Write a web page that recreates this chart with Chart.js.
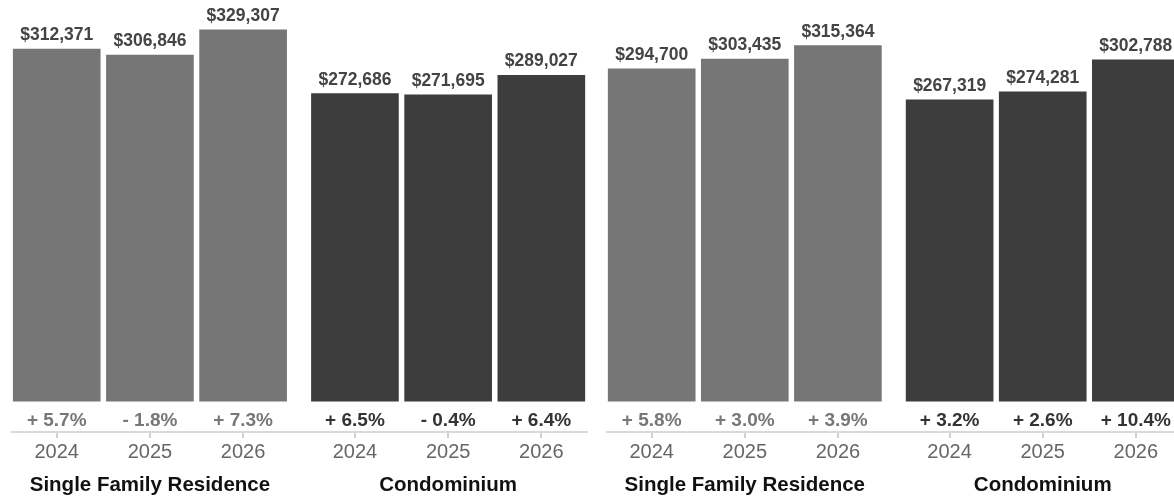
<!DOCTYPE html>
<html>
<head>
<meta charset="utf-8">
<script src="https://cdn.jsdelivr.net/npm/chart.js@4/dist/chart.umd.min.js"></script>
<style>
    html, body { margin: 0; padding: 0; background: #fff; }
    .wrap { position: relative; width: 1174px; height: 499px; overflow: hidden; }
    #panelA { position: absolute; left: 0; top: 0; }
    #panelB { position: absolute; left: 600px; top: 0; }
</style>
</head>
<body>
<div class="wrap">
    <canvas id="panelA" width="600" height="499"></canvas>
    <canvas id="panelB" width="574" height="499"></canvas>
</div>
<script>
    // data
    const years = ['2024', '2025', '2026'];
    const groups = ['Single Family Residence', 'Condominium'];

    const sfrA = [312371, 306846, 329307];
    const sfrChangeA = [5.7, -1.8, 7.3];
    const condoA = [272686, 271695, 289027];
    const condoChangeA = [6.5, -0.4, 6.4];

    const sfrB = [294700, 303435, 315364];
    const sfrChangeB = [5.8, 3.0, 3.9];
    const condoB = [267319, 274281, 302788];
    const condoChangeB = [3.2, 2.6, 10.4];

    const FONT = '"Liberation Sans", Arial, Helvetica, sans-serif';
    const SFR_COLOR = '#767676';
    const CONDO_COLOR = '#3d3d3d';
    const GROUP_GAP = 0.2;

    // bar slots on the x scale: 3 years, a small gap, 3 years
    const slots = [0, 1, 2, 3 + GROUP_GAP, 4 + GROUP_GAP, 5 + GROUP_GAP];

    function fmtMoney(v) {
        return '$' + String(v).replace(/\B(?=(\d{3})+(?!\d))/g, ',');
    }
    function fmtChange(v) {
        return (v < 0 ? '- ' : '+ ') + Math.abs(v).toFixed(1) + '%';
    }

    const labelPlugin = {
        id: 'barLabels',
        afterDraw(chart) {
            const ctx = chart.ctx;
            const meta = chart.getDatasetMeta(0);
            const ds = chart.data.datasets[0];
            const base = chart.scales.y.getPixelForValue(0);
            const bottom = chart.chartArea.bottom;
            ctx.save();
            ctx.textAlign = 'center';
            meta.data.forEach((bar, i) => {
                ctx.font = 'bold 17.5px ' + FONT;
                ctx.fillStyle = '#444';
                ctx.textBaseline = 'alphabetic';
                ctx.fillText(fmtMoney(ds.data[i].y), bar.x, bar.y - 9);

                ctx.font = 'bold 19px ' + FONT;
                ctx.fillStyle = i < 3 ? '#777' : '#333';
                ctx.textBaseline = 'middle';
                ctx.fillText(fmtChange(ds.changes[i]), bar.x, (base + bottom) / 2 + 4);
            });
            // group titles under the years
            const x = chart.scales.x;
            ctx.font = 'bold 20.5px ' + FONT;
            ctx.fillStyle = '#111';
            ctx.textBaseline = 'middle';
            ctx.fillText(groups[0], x.getPixelForValue(slots[1]), 485);
            ctx.fillText(groups[1], x.getPixelForValue(slots[4]), 485);
            ctx.restore();
        }
    };

    function makePanel(id, sfr, sfrChg, condo, condoChg, pad, xMax) {
        const values = sfr.concat(condo);
        return new Chart(document.getElementById(id), {
            type: 'bar',
            data: {
                datasets: [{
                    data: values.map((v, i) => ({ x: slots[i], y: v })),
                    changes: sfrChg.concat(condoChg),
                    backgroundColor: values.map((v, i) => i < 3 ? SFR_COLOR : CONDO_COLOR),
                    barThickness: 87,
                    borderWidth: 0
                }]
            },
            options: {
                responsive: false,
                animation: false,
                events: [],
                layout: { padding: pad },
                plugins: {
                    legend: { display: false },
                    tooltip: { enabled: false }
                },
                scales: {
                    x: {
                        type: 'linear',
                        min: -0.48,
                        max: xMax,
                        offset: false,
                        afterBuildTicks: s => { s.ticks = slots.map(v => ({ value: v })); },
                        ticks: {
                            callback: (v, i) => years[i % 3],
                            color: '#666',
                            font: { size: 20, family: FONT },
                            padding: 2,
                            autoSkip: false,
                            maxRotation: 0
                        },
                        grid: {
                            offset: false,
                            drawOnChartArea: false,
                            drawTicks: true,
                            tickLength: 6,
                            color: '#d0d0d0',
                            lineWidth: 2
                        },
                        border: { color: '#d9d9d9', width: 2 }
                    },
                    y: {
                        display: false,
                        min: -27400,
                        max: 355800
                    }
                }
            },
            plugins: [labelPlugin]
        });
    }

    makePanel('panelA', sfrA, sfrChangeA, condoA, condoChangeA,
        { left: 12, right: 13, top: 0, bottom: 33 }, 5.69);
    makePanel('panelB', sfrB, sfrChangeB, condoB, condoChangeB,
        { left: 7, right: 0, top: 0, bottom: 33 }, 5.61);
</script>
</body>
</html>
